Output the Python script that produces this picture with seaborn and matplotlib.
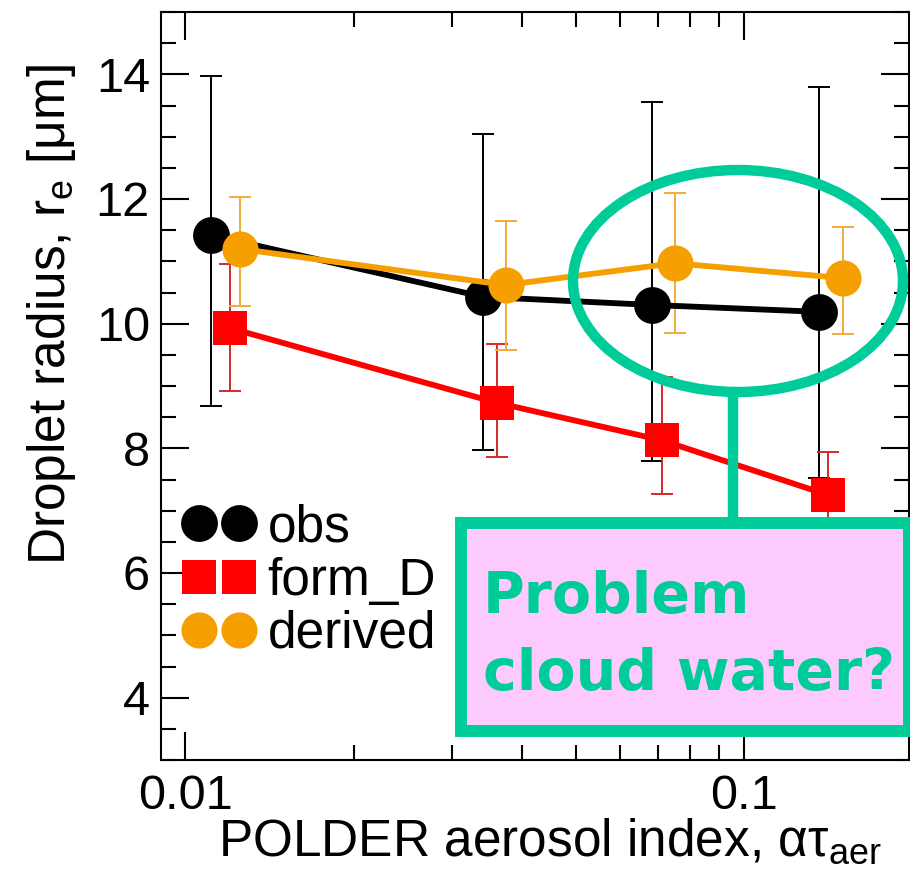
import numpy as np
import pandas as pd
import matplotlib
matplotlib.use('Agg')
import matplotlib.pyplot as plt
import seaborn as sns
from matplotlib.patches import Ellipse, Rectangle
from matplotlib.lines import Line2D
from matplotlib.ticker import FixedLocator, FixedFormatter, LogLocator, MultipleLocator, NullFormatter

# datos
obs_x = [0.0111, 0.0341, 0.0684, 0.1357]
obs_y = [11.42, 10.43, 10.30, 10.19]
obs_lo = [8.68, 7.97, 7.80, 7.52]
obs_hi = [13.97, 13.05, 13.55, 13.80]

form_x = [0.0120, 0.0361, 0.0711, 0.1413]
form_y = [9.93, 8.73, 8.13, 7.25]
form_lo = [8.92, 7.86, 7.27, 6.60]
form_hi = [10.95, 9.67, 9.14, 7.94]

der_x = [0.0125, 0.0374, 0.0750, 0.1504]
der_y = [11.20, 10.62, 10.97, 10.73]
der_lo = [10.28, 9.58, 9.85, 9.83]
der_hi = [12.03, 11.65, 12.10, 11.55]

series_names = ['obs', 'form_D', 'derived']
x_ticks = [0.01, 0.1]
x_tick_labels = ['0.01', '0.1']
y_ticks = [4, 6, 8, 10, 12, 14]

GREEN = '#00CC99'
PINK = '#FCCAFC'

sns.set_style('ticks')
plt.rcParams['font.family'] = ['Liberation Sans', 'DejaVu Sans']
plt.rcParams['mathtext.fontset'] = 'custom'
plt.rcParams['mathtext.rm'] = 'Liberation Sans'
plt.rcParams['mathtext.it'] = 'Liberation Sans:italic'
for k in ['text.color', 'axes.labelcolor', 'xtick.color', 'ytick.color', 'axes.edgecolor']:
    plt.rcParams[k] = 'black'

fig = plt.figure(figsize=(9.1, 8.86), dpi=100)
ax = fig.add_axes([161 / 910, 126 / 886, 748 / 910, 748 / 886])
ax.set_xscale('log')

styles = [
    (obs_x, obs_y, obs_lo, obs_hi, 'black', 'black', 'o', 26.5),
    (form_x, form_y, form_lo, form_hi, '#ff0000', '#d42a2a', 's', 24.5),
    (der_x, der_y, der_lo, der_hi, '#f5a000', '#f2aa3a', 'o', 26.0),
]

for i, (xs, ys, lo, hi, col, ecol, mk, ms) in enumerate(styles):
    ys_a = np.array(ys)
    yerr = [ys_a - np.array(lo), np.array(hi) - ys_a]
    ax.errorbar(xs, ys, yerr=yerr, fmt='none', ecolor=ecol, elinewidth=1.4,
                capsize=8, capthick=1.4, zorder=2 + i * 0.1)
    sns.lineplot(x=xs, y=ys, ax=ax, color=col, lw=4.2, marker=mk, ms=ms,
                 mew=0, sort=False, zorder=3 + i * 0.1)

ax.set_xlim(0.00904, 0.197)
ax.set_ylim(3, 15)

ax.xaxis.set_major_locator(FixedLocator(x_ticks))
ax.xaxis.set_major_formatter(FixedFormatter(x_tick_labels))
ax.xaxis.set_minor_locator(LogLocator(base=10, subs=np.arange(2, 10)))
ax.xaxis.set_minor_formatter(NullFormatter())
ax.yaxis.set_major_locator(FixedLocator(y_ticks))
ax.yaxis.set_minor_locator(MultipleLocator(0.5))

ax.tick_params(which='both', direction='in', top=True, right=True,
               width=1.5, colors='black')
ax.tick_params(which='major', length=20, labelsize=35)
ax.tick_params(axis='x', which='major', pad=10)
ax.tick_params(axis='y', which='major', pad=8)
ax.tick_params(which='minor', length=11)
for sp in ax.spines.values():
    sp.set_linewidth(1.5)
    sp.set_color('black')

ax.set_xlabel('POLDER aerosol index, ατ$_{\\mathrm{aer}}$', fontsize=37, color='black')
ax.set_ylabel('Droplet radius, r$_{\\mathrm{e}}$ [μm]', fontsize=37, color='black')
ax.xaxis.set_label_coords(0.52, -0.076)
ax.yaxis.set_label_coords(-0.111, 0.595)

# leyenda con dos marcadores por serie
handles = [Line2D([], [], ls='none', marker=s[6], ms=s[7], mew=0, color=s[4]) for s in styles]
leg = ax.legend(handles, series_names, loc='upper left', bbox_to_anchor=(0.030, 0.343),
                frameon=False, numpoints=2, handlelength=1.38, handletextpad=0.26,
                labelspacing=0.08, borderpad=0, borderaxespad=0, fontsize=37)
for t in leg.get_texts():
    t.set_color('black')

# anotacion
fig.add_artist(Ellipse((738 / 910, 1 - 281 / 886), 330 / 910, 222 / 886,
                       transform=fig.transFigure, fill=False, ec=GREEN, lw=7.5, zorder=10))
fig.add_artist(Line2D([733 / 910, 733 / 910], [1 - 392 / 886, 1 - 523 / 886],
                      transform=fig.transFigure, color=GREEN, lw=7.5, zorder=10))
fig.add_artist(Rectangle((461 / 910, 1 - 731 / 886), 448 / 910, 208 / 886,
                         transform=fig.transFigure, fc=PINK, ec=GREEN, lw=8.6, zorder=11))
fig.text(483 / 910, 1 - 613 / 886, 'Problem', color=GREEN, fontsize=41, fontweight='bold',
         family='DejaVu Sans', va='baseline', ha='left', zorder=12)
fig.text(483 / 910, 1 - 690 / 886, 'cloud water?', color=GREEN, fontsize=41, fontweight='bold',
         family='DejaVu Sans', va='baseline', ha='left', zorder=12)

fig.savefig('out.png', dpi=100)
plt.close(fig)
